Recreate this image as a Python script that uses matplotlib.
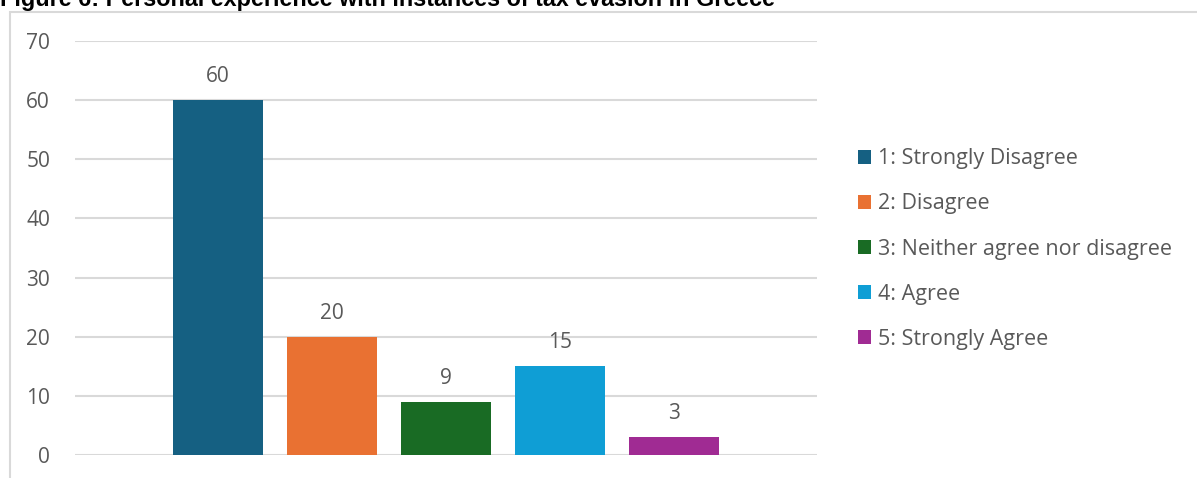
import matplotlib.pyplot as plt
from matplotlib.patches import Rectangle

title = "Figure 6: Personal experience with instances of tax evasion in Greece"
categories = ["1: Strongly Disagree", "2: Disagree", "3: Neither agree nor disagree",
              "4: Agree", "5: Strongly Agree"]
counts = [60, 20, 9, 15, 3]
colors = ["#156082", "#E97132", "#196B24", "#0F9ED5", "#A02B93"]
y_ticks = [0, 10, 20, 30, 40, 50, 60, 70]

plt.rcParams['font.family'] = ['Open Sans', 'DejaVu Sans']
text_color = "#595959"
grid_color = "#d9d9d9"

W, H = 1197, 478
fig = plt.figure(figsize=(W / 100, H / 100), dpi=100)

# chart frame (left and top edges visible)
fig.patches.append(Rectangle((10 / W, -0.1), 1.2, 1.1 - 12 / H, transform=fig.transFigure,
                             fill=False, edgecolor=grid_color, linewidth=1.5))

fig.text(0.0, 1 - 6 / H, title, fontsize=16.8, fontweight='bold', va='baseline', ha='left',
         family=['Liberation Sans', 'DejaVu Sans'], color='black')

ax = fig.add_axes([75 / W, 23 / H, (817 - 75) / W, 414 / H])
width = 90 / 114
for i, (lab, v, c) in enumerate(zip(categories, counts, colors)):
    ax.bar(i, v, width=width, color=c, label=lab, zorder=3)
    ax.annotate(str(v), (i, v), xytext=(0, 9.5), textcoords='offset points', ha='center',
                va='bottom', fontsize=15, color=text_color)

ax.set_xlim(-143 / 114, 4 + 143 / 114)
ax.set_ylim(0, 70)
ax.set_yticks(y_ticks)
ax.set_xticks([])
ax.yaxis.grid(True, color=grid_color, linewidth=1.5, zorder=0)
ax.tick_params(axis='y', length=0, pad=18, labelsize=15, labelcolor=text_color)
for s in ax.spines.values():
    s.set_visible(False)

ax.legend(loc='center left', bbox_to_anchor=(858 / W, (H - 249) / H),
          bbox_transform=fig.transFigure, frameon=False, fontsize=15.5,
          labelcolor=text_color, handlelength=0.62, handleheight=0.62,
          handletextpad=0.3, labelspacing=1.12, borderaxespad=0, borderpad=0)

fig.savefig("out.png", dpi=100)
